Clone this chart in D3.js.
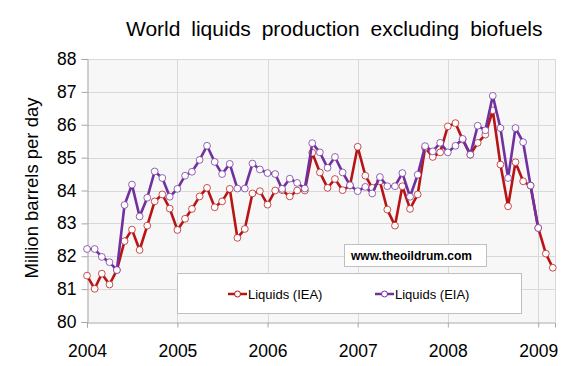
<!DOCTYPE html>
<html>
<head>
<meta charset="utf-8">
<script src="https://cdn.jsdelivr.net/npm/d3@7"></script>
<style>
  html, body { margin: 0; padding: 0; background: #fff; }
  svg { display: block; font-family: "Liberation Sans", Arial, sans-serif; }
</style>
</head>
<body>
<svg id="chart" width="570" height="366"></svg>
<script>
// ---- data ----
const startMonth = [2004, 0];           // January 2004
const ieaValues = [
  81.41, 81.01, 81.47, 81.14, 81.58, 82.46, 82.81, 82.19, 82.93, 83.67, 83.88, 83.45,
  82.80, 83.14, 83.44, 83.82, 84.08, 83.49, 83.67, 84.05, 82.56, 82.83, 83.91, 83.98,
  83.57, 84.00, 84.01, 83.82, 84.00, 84.00, 85.15, 84.55, 84.08, 84.35, 84.01, 84.15,
  85.33, 84.45, 84.08, 84.28, 83.42, 82.93, 84.13, 83.44, 83.88, 85.30, 85.02, 85.16,
  85.95, 86.05, 85.55, 85.09, 85.45, 85.70, 86.44, 84.79, 83.52, 84.86, 84.28, 84.15,
  82.86, 82.08, 81.65
];
const eiaValues = [
  82.22, 82.22, 81.98, 81.82, 81.58, 83.56, 84.18, 83.21, 83.78, 84.58, 84.38, 83.81,
  84.05, 84.45, 84.57, 84.93, 85.36, 84.87, 84.50, 84.81, 84.06, 84.06, 84.82, 84.64,
  84.53, 84.50, 84.05, 84.36, 84.23, 84.06, 85.44, 85.16, 84.69, 85.02, 84.55, 84.16,
  83.98, 84.11, 83.91, 84.41, 84.13, 84.13, 84.53, 83.81, 84.48, 85.35, 85.19, 85.45,
  85.16, 85.36, 85.57, 85.09, 85.97, 85.83, 86.88, 85.90, 84.38, 85.90, 85.47, 84.15,
  82.86
];
const seriesNames = ["Liquids (IEA)", "Liquids (EIA)"];
const yearTicks = [2004, 2005, 2006, 2007, 2008, 2009];
const valueTicks = [80, 81, 82, 83, 84, 85, 86, 87, 88];
const titleText = "World liquids production excluding biofuels";
const yLabelText = "Million barrels per day";
const sourceText = "www.theoildrum.com";

// ---- layout ----
const svg = d3.select("#chart");
const plot = { left: 87, right: 555, top: 59, bottom: 322 };
const colors = { iea: "#b81414", eia: "#7030a0" };

const monthDate = i => new Date(startMonth[0], startMonth[1] + i, 1);
const ieaData = ieaValues.map((v, i) => ({ date: monthDate(i), value: v }));
const eiaData = eiaValues.map((v, i) => ({ date: monthDate(i), value: v }));

const x = d3.scaleTime()
  .domain([new Date(2004, 0, 1), new Date(2009, 2, 10)])
  .range([plot.left, plot.right]);
const y = d3.scaleLinear()
  .domain([80, 88])
  .range([plot.bottom, plot.top]);

// plot background
svg.append("rect")
  .attr("x", plot.left).attr("y", plot.top)
  .attr("width", plot.right - plot.left).attr("height", plot.bottom - plot.top)
  .attr("fill", "#f7f7f7");

// gridlines
svg.append("g").selectAll("line").data(valueTicks.slice(1)).join("line")
  .attr("x1", plot.left).attr("x2", plot.right)
  .attr("y1", d => Math.round(y(d)) + 0.5).attr("y2", d => Math.round(y(d)) + 0.5)
  .attr("stroke", "#d9d9d9");
svg.append("g").selectAll("line").data(yearTicks.slice(1)).join("line")
  .attr("x1", d => Math.round(x(new Date(d, 0, 1))) + 0.5)
  .attr("x2", d => Math.round(x(new Date(d, 0, 1))) + 0.5)
  .attr("y1", plot.top).attr("y2", plot.bottom)
  .attr("stroke", "#d9d9d9");
svg.append("line")
  .attr("x1", plot.right + 0.5).attr("x2", plot.right + 0.5)
  .attr("y1", plot.top).attr("y2", plot.bottom)
  .attr("stroke", "#d9d9d9");

// axes
const yAxis = d3.axisLeft(y).tickValues(valueTicks).tickSize(6).tickPadding(5)
  .tickFormat(d3.format("d"));
const gy = svg.append("g").attr("transform", `translate(${plot.left + 0.5},0)`).call(yAxis);
gy.select(".domain").attr("stroke", "#a6a6a6");
gy.selectAll(".tick line").attr("stroke", "#a6a6a6");
gy.selectAll(".tick text").attr("font-size", 17.5).attr("fill", "#000")
  .attr("font-family", "Liberation Sans, Arial, sans-serif");

const xAxis = d3.axisBottom(x).tickValues(yearTicks.map(d => new Date(d, 0, 1)))
  .tickSize(5).tickPadding(17).tickFormat(d3.timeFormat("%Y"));
const gx = svg.append("g").attr("transform", `translate(0,${plot.bottom + 0.5})`).call(xAxis);
gx.select(".domain").attr("stroke", "#a6a6a6");
gx.selectAll(".tick line").attr("stroke", "#a6a6a6");
gx.selectAll(".tick text").attr("font-size", 17.5).attr("fill", "#000")
  .attr("font-family", "Liberation Sans, Arial, sans-serif");

// watermark box
const wm = svg.append("g");
wm.append("rect").attr("x", 344.5).attr("y", 244.5).attr("width", 142).attr("height", 22)
  .attr("fill", "#fff").attr("stroke", "#bfbfbf");
wm.append("text").attr("x", 351).attr("y", 260).attr("font-size", 12).attr("font-weight", "bold")
  .attr("fill", "#000").text(sourceText);

// legend box
const lg = svg.append("g");
lg.append("rect").attr("x", 177.5).attr("y", 273.5).attr("width", 344).attr("height", 40)
  .attr("fill", "#fff").attr("stroke", "#bfbfbf");
const legendItems = [
  { name: seriesNames[0], color: colors.iea, x: 228 },
  { name: seriesNames[1], color: colors.eia, x: 375 }
];
legendItems.forEach(it => {
  const g = lg.append("g");
  g.append("line").attr("x1", it.x).attr("x2", it.x + 19).attr("y1", 294).attr("y2", 294)
    .attr("stroke", it.color).attr("stroke-width", 2.5);
  g.append("circle").attr("cx", it.x + 9.5).attr("cy", 294).attr("r", 3)
    .attr("fill", "#fff").attr("stroke", it.color).attr("stroke-width", 1);
  g.append("text").attr("x", it.x + 20).attr("y", 294).attr("dy", "0.35em")
    .attr("font-size", 13).attr("fill", "#000").text(it.name);
});

// series
const line = d3.line().x(d => x(d.date)).y(d => y(d.value));
function drawSeries(data, color) {
  const g = svg.append("g");
  g.append("path").datum(data).attr("d", line)
    .attr("fill", "none").attr("stroke", color).attr("stroke-width", 2.6)
    .attr("stroke-linejoin", "round");
  g.selectAll("circle").data(data).join("circle")
    .attr("cx", d => x(d.date)).attr("cy", d => y(d.value)).attr("r", 3.4)
    .attr("fill", "#fff").attr("stroke", color).attr("stroke-opacity", 0.75).attr("stroke-width", 1);
}
drawSeries(ieaData, colors.iea);
drawSeries(eiaData, colors.eia);

// title
svg.append("text").attr("x", 126).attr("y", 36).attr("font-size", 21)
  .attr("word-spacing", "5px").attr("fill", "#000").text(titleText);

// y label
svg.append("text")
  .attr("transform", "translate(38,188) rotate(-90)")
  .attr("text-anchor", "middle").attr("font-size", 18.5).attr("fill", "#000")
  .text(yLabelText);
</script>
</body>
</html>
